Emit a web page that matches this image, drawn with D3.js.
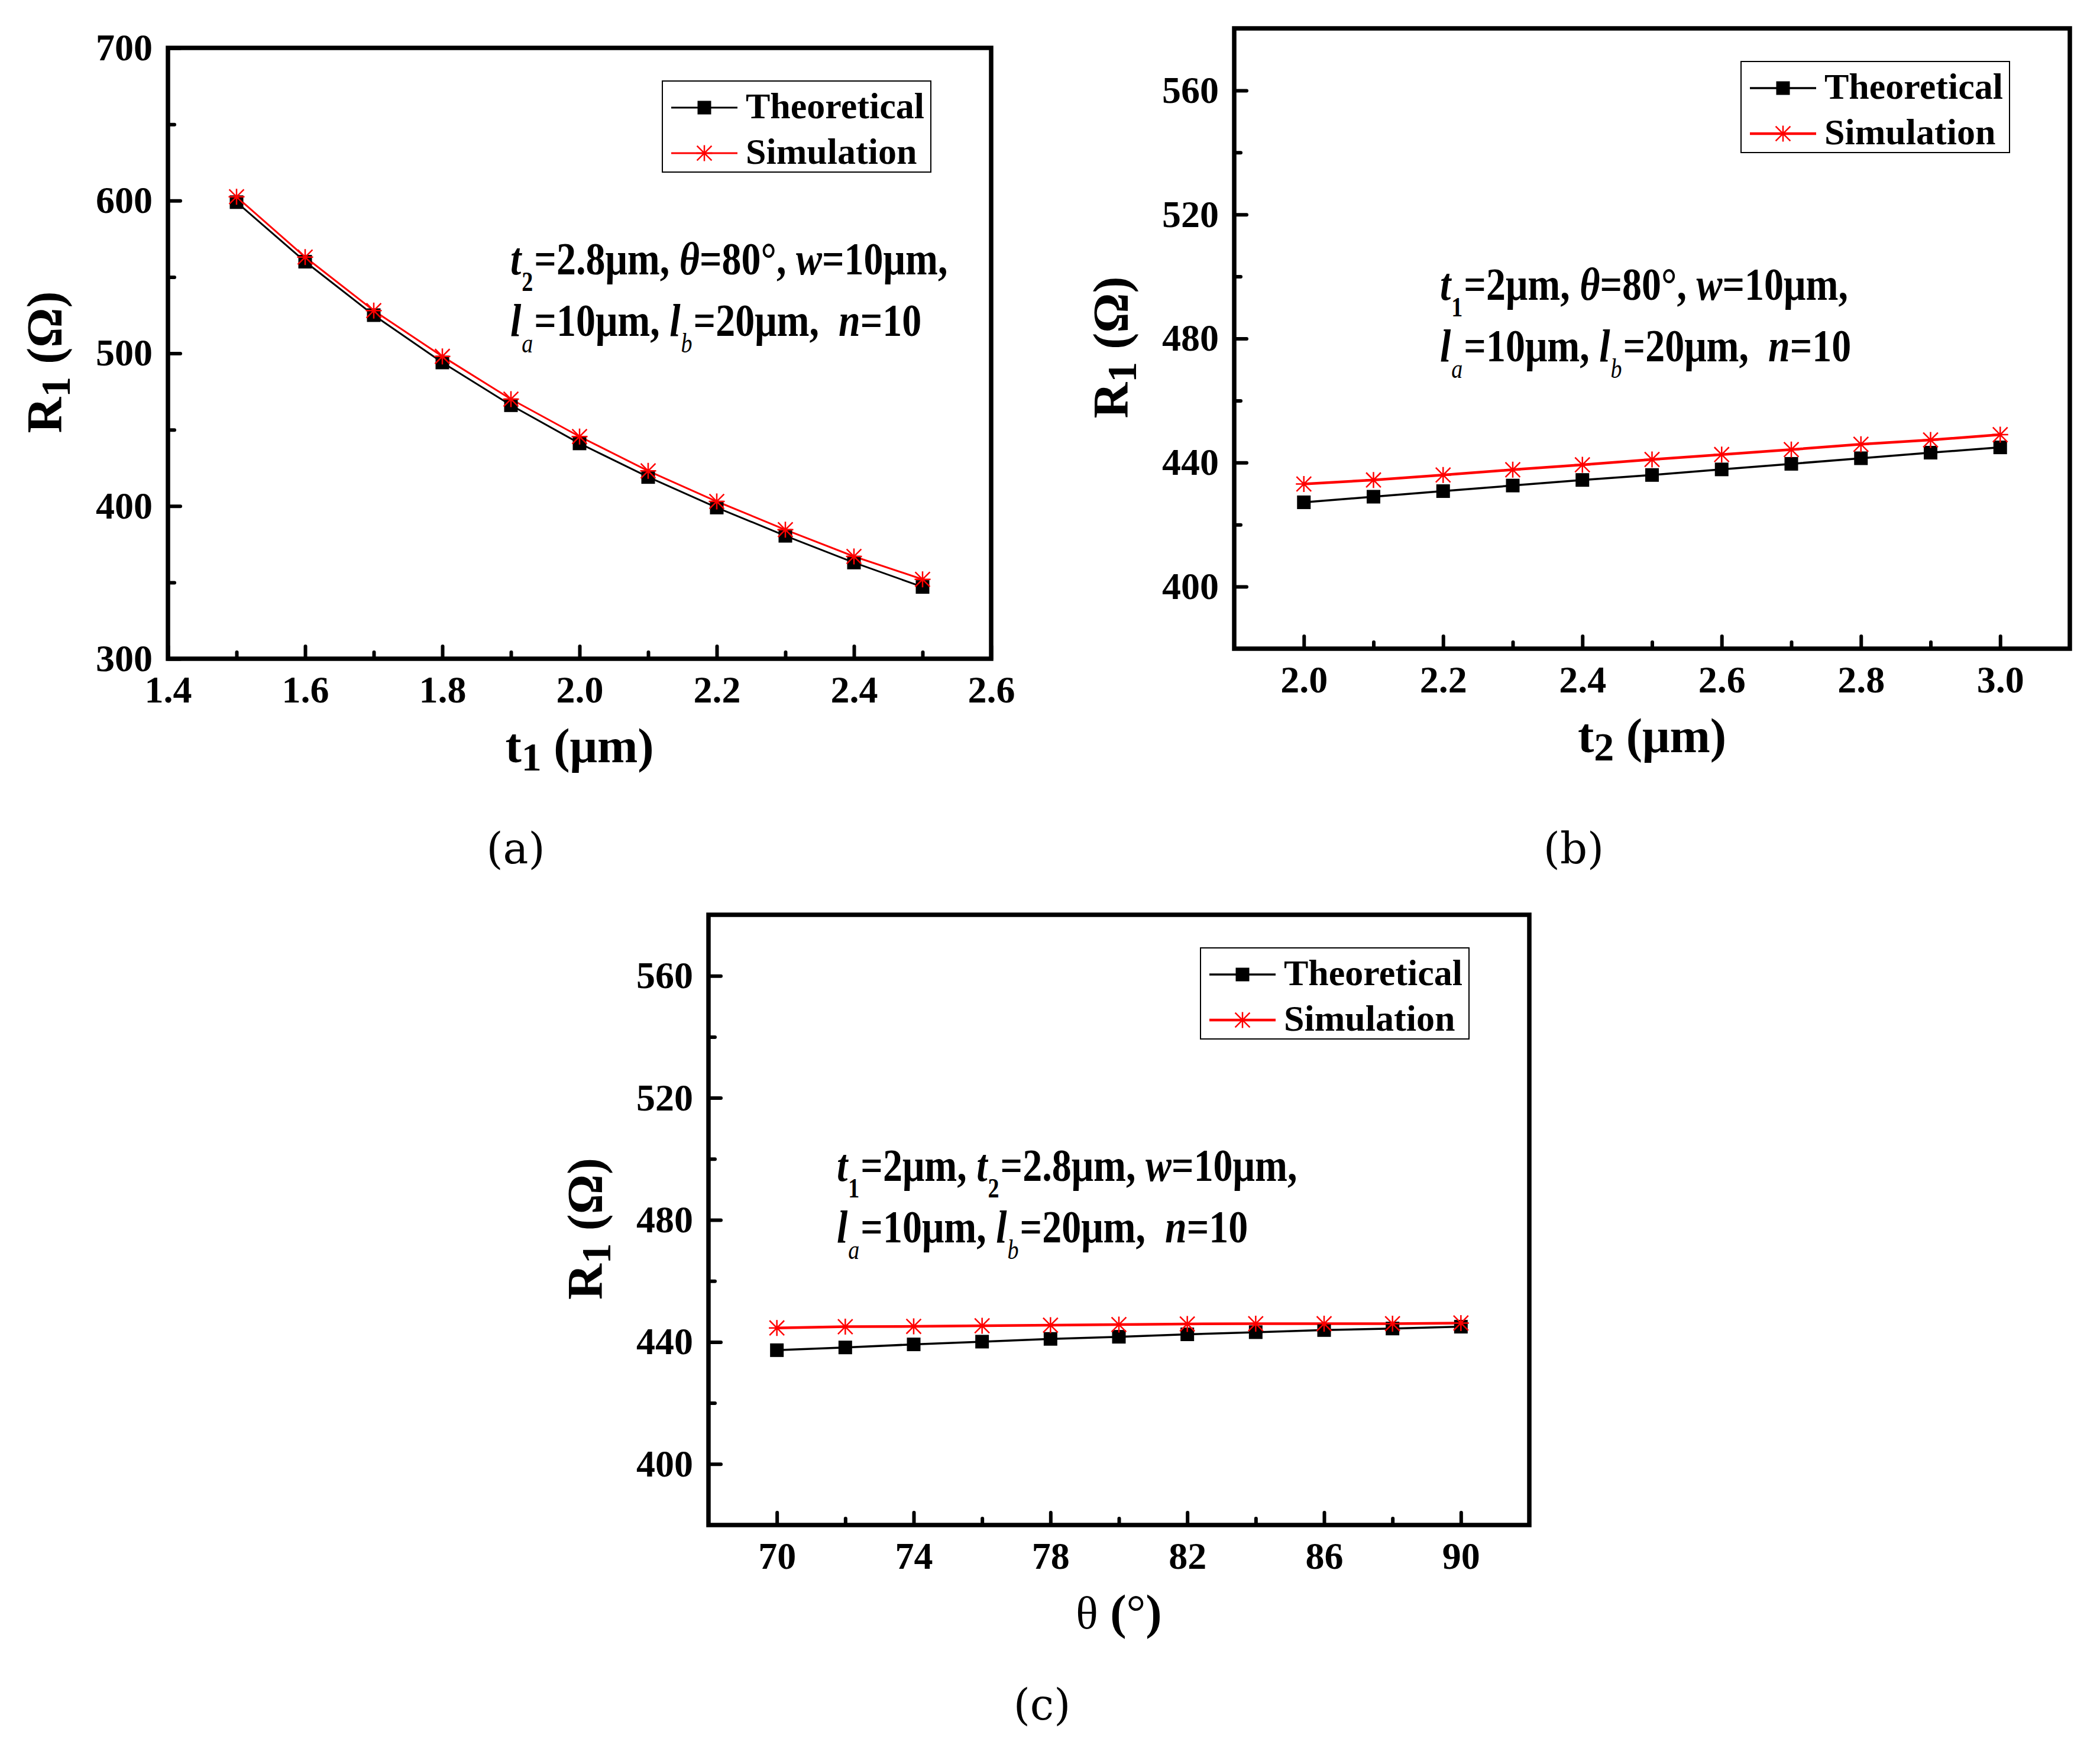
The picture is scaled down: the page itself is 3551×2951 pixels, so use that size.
<!DOCTYPE html>
<html>
<head>
<meta charset="utf-8">
<script src="https://cdn.jsdelivr.net/npm/d3@7"></script>
<style>
  body { margin: 0; background: #fff; }
  text { font-family: "Liberation Serif", "Times New Roman", serif; }
</style>
</head>
<body>
<div id="chart"></div>
<script>
// ---- data ----
const t1Values = [1.5, 1.6, 1.7, 1.8, 1.9, 2.0, 2.1, 2.2, 2.3, 2.4, 2.5];
const t1Theoretical = [599, 560, 525, 494, 466, 441, 419, 399, 380.5, 363, 347];
const t1Simulation = [602.5, 563, 528, 498, 470, 445.5, 423, 403, 384.5, 367, 352];

const t2Values = [2.0, 2.1, 2.2, 2.3, 2.4, 2.5, 2.6, 2.7, 2.8, 2.9, 3.0];
const t2Theoretical = [427.2, 429, 430.8, 432.6, 434.4, 436, 437.8, 439.6, 441.4, 443.2, 444.9];
const t2Simulation = [433.1, 434.4, 436, 437.7, 439.3, 441, 442.6, 444.2, 445.9, 447.3, 449];

const thetaValues = [70, 72, 74, 76, 78, 80, 82, 84, 86, 88, 90];
const thetaTheoretical = [437.3, 438.2, 439.2, 440.1, 441, 441.7, 442.5, 443.2, 443.9, 444.4, 445];
const thetaSimulation = [444.6, 445, 445.1, 445.3, 445.5, 445.7, 445.9, 446, 446, 446, 446.2];

// tick values
const t1MajorTicks = [1.4, 1.6, 1.8, 2.0, 2.2, 2.4, 2.6];
const t1MinorTicks = [1.5, 1.7, 1.9, 2.1, 2.3, 2.5];
const r1MajorTicksA = [300, 400, 500, 600, 700];
const r1MinorTicksA = [350, 450, 550, 650];
const t2MajorTicks = [2.0, 2.2, 2.4, 2.6, 2.8, 3.0];
const t2MinorTicks = [2.1, 2.3, 2.5, 2.7, 2.9];
const thetaMajorTicks = [70, 74, 78, 82, 86, 90];
const thetaMinorTicks = [72, 76, 80, 84, 88];
const r1MajorTicks = [400, 440, 480, 520, 560];
const r1MinorTicks = [420, 460, 500, 540];

const seriesNames = ["Theoretical", "Simulation"];

// annotation texts: [text, style]  style: "" normal, "i" italic, "s" subscript, "si" italic subscript
const lineBottom = [["l", "i"], ["a", "si"], ["=10μm, ", ""], ["l", "i"], ["b", "si"], ["=20μm,  ", ""], ["n", "i"], ["=10", ""]];
const noteA = [[["t", "i"], ["2", "s"], ["=2.8μm, ", ""], ["θ", "i"], ["=80°, ", ""], ["w", "i"], ["=10μm,", ""]], lineBottom];
const noteB = [[["t", "i"], ["1", "s"], ["=2μm, ", ""], ["θ", "i"], ["=80°, ", ""], ["w", "i"], ["=10μm,", ""]], lineBottom];
const noteC = [[["t", "i"], ["1", "s"], ["=2μm, ", ""], ["t", "i"], ["2", "s"], ["=2.8μm, ", ""], ["w", "i"], ["=10μm,", ""]], lineBottom];

// ---- layout ----
const W = 3551, H = 2951;
const svg = d3.select("#chart").append("svg")
    .attr("width", W).attr("height", H)
    .style("display", "block");
svg.append("rect").attr("width", W).attr("height", H).attr("fill", "#fff");

const panels = [
    {left: 284, right: 1676, top: 81, bottom: 1114, xDomain: [1.4, 2.6], yDomain: [300, 700],
     xs: t1Values, theo: t1Theoretical, sim: t1Simulation,
     xMajor: t1MajorTicks, xMinor: t1MinorTicks, yMajor: r1MajorTicksA, yMinor: r1MinorTicksA,
     xFmt: d3.format(".1f"), xTitle: "t1", note: noteA, noteX: 579, noteY: 383,
     label: "(a)", labelX: 872, labelY: 1460, simWidth: 3, theoWidth: 3},
    {left: 2087, right: 3500, top: 48, bottom: 1097, xDomain: [1.9, 3.1], yDomain: [380, 580],
     xs: t2Values, theo: t2Theoretical, sim: t2Simulation,
     xMajor: t2MajorTicks, xMinor: t2MinorTicks, yMajor: r1MajorTicks, yMinor: r1MinorTicks,
     xFmt: d3.format(".1f"), xTitle: "t2", note: noteB, noteX: 348, noteY: 459,
     label: "(b)", labelX: 2661, labelY: 1460, simWidth: 4.5, theoWidth: 3.5},
    {left: 1198, right: 2586, top: 1547, bottom: 2579, xDomain: [68, 92], yDomain: [380, 580],
     xs: thetaValues, theo: thetaTheoretical, sim: thetaSimulation,
     xMajor: thetaMajorTicks, xMinor: thetaMinorTicks, yMajor: r1MajorTicks, yMinor: r1MinorTicks,
     xFmt: d3.format("d"), xTitle: "theta", note: noteC, noteX: 217, noteY: 450,
     label: "(c)", labelX: 1762, labelY: 2908, simWidth: 4.5, theoWidth: 3.5}
];

// asterisk symbol for the simulation markers
const asterisk = {
    draw(ctx, size) {
        const r = Math.sqrt(size) / 2;
        const d = r * 0.92;
        ctx.moveTo(-r, 0); ctx.lineTo(r, 0);
        ctx.moveTo(0, -r); ctx.lineTo(0, r);
        ctx.moveTo(-d, -d); ctx.lineTo(d, d);
        ctx.moveTo(-d, d); ctx.lineTo(d, -d);
    }
};
const squarePath = d3.symbol(d3.symbolSquare, 23 * 23)();
const starPath = d3.symbol(asterisk, 27 * 27)();

panels.forEach(function(p) {
    const w = p.right - p.left, h = p.bottom - p.top;
    const g = svg.append("g").attr("transform", "translate(" + p.left + "," + p.top + ")");

    const x = d3.scaleLinear().domain(p.xDomain).range([0, w]);
    const y = d3.scaleLinear().domain(p.yDomain).range([h, 0]);

    // axes with inward ticks
    g.append("g").attr("transform", "translate(0," + h + ")")
        .call(d3.axisBottom(x).tickValues(p.xMajor).tickFormat(p.xFmt).tickSize(-21).tickSizeOuter(0).tickPadding(29));
    g.append("g").attr("transform", "translate(0," + h + ")")
        .call(d3.axisBottom(x).tickValues(p.xMinor).tickFormat("").tickSize(-11).tickSizeOuter(0));
    g.append("g")
        .call(d3.axisLeft(y).tickValues(p.yMajor).tickSize(-21).tickSizeOuter(0).tickPadding(26));
    g.append("g")
        .call(d3.axisLeft(y).tickValues(p.yMinor).tickFormat("").tickSize(-11).tickSizeOuter(0));

    g.selectAll(".domain").remove();
    g.selectAll(".tick line").attr("stroke", "#000").attr("stroke-width", 6).attr("stroke-linecap", "round");
    g.selectAll(".tick text")
        .attr("fill", "#000")
        .style("font-family", "'Liberation Serif', serif")
        .style("font-weight", "bold")
        .style("font-size", "64px");

    // frame
    g.append("rect").attr("width", w).attr("height", h)
        .attr("fill", "none").attr("stroke", "#000").attr("stroke-width", 7.5);

    // series
    const line = d3.line()
        .x(function(d) { return x(d[0]); })
        .y(function(d) { return y(d[1]); });
    const theoPts = p.xs.map(function(v, i) { return [v, p.theo[i]]; });
    const simPts = p.xs.map(function(v, i) { return [v, p.sim[i]]; });

    g.append("path").datum(theoPts).attr("d", line)
        .attr("fill", "none").attr("stroke", "#000").attr("stroke-width", p.theoWidth);
    g.append("path").datum(simPts).attr("d", line)
        .attr("fill", "none").attr("stroke", "#ff0000").attr("stroke-width", p.simWidth);

    g.selectAll(".theo").data(theoPts).enter().append("path")
        .attr("class", "theo")
        .attr("d", squarePath)
        .attr("transform", function(d) { return "translate(" + x(d[0]) + "," + y(d[1]) + ")"; })
        .attr("fill", "#000");
    g.selectAll(".sim").data(simPts).enter().append("path")
        .attr("class", "sim")
        .attr("d", starPath)
        .attr("transform", function(d) { return "translate(" + x(d[0]) + "," + y(d[1]) + ")"; })
        .attr("fill", "none").attr("stroke", "#ff0000").attr("stroke-width", 2.5);

    // legend
    const lg = g.append("g").attr("transform", "translate(" + (w - 102 - 454) + ",56)");
    lg.append("rect").attr("width", 454).attr("height", 154)
        .attr("fill", "#fff").attr("stroke", "#000").attr("stroke-width", 2);
    seriesNames.forEach(function(name, i) {
        const cy = i === 0 ? 45 : 122;
        const col = i === 0 ? "#000" : "#ff0000";
        lg.append("line").attr("x1", 15).attr("x2", 127).attr("y1", cy).attr("y2", cy)
            .attr("stroke", col).attr("stroke-width", i === 0 ? p.theoWidth : p.simWidth);
        if (i === 0) {
            lg.append("path").attr("d", squarePath).attr("transform", "translate(71," + cy + ")").attr("fill", "#000");
        } else {
            lg.append("path").attr("d", starPath).attr("transform", "translate(71," + cy + ")")
                .attr("fill", "none").attr("stroke", "#ff0000").attr("stroke-width", 2.5);
        }
        lg.append("text").attr("x", 141).attr("y", cy + 18)
            .style("font-weight", "bold").style("font-size", "62px")
            .text(name);
    });

    // annotation (text in the original is drawn a little taller than wide)
    p.note.forEach(function(segs, li) {
        const t = g.append("text")
            .attr("transform", "translate(" + p.noteX + "," + (p.noteY + li * 104) + ") scale(1,1.2)")
            .style("white-space", "pre")
            .style("font-weight", "bold").style("font-size", "66px");
        let lowered = false;
        segs.forEach(function(s) {
            const ts = t.append("tspan").text(s[0]);
            if (s[1] === "s" || s[1] === "si") {
                ts.style("font-size", "38px").attr("dy", 23).attr("dx", 1);
                if (s[1] === "si") ts.style("font-style", "italic").style("font-weight", "normal");
                lowered = true;
            } else {
                if (lowered) { ts.attr("dy", -23).attr("dx", 2); lowered = false; }
                if (s[1] === "i") ts.style("font-style", "italic");
            }
        });
    });

    // y title
    const yt = g.append("text")
        .attr("transform", "translate(-180," + (h / 2 + 15) + ") rotate(-90)")
        .attr("text-anchor", "middle")
        .style("font-weight", "bold").style("font-size", "84px");
    yt.append("tspan").text("R");
    yt.append("tspan").text("1").style("font-size", "70px").attr("dy", 14);
    yt.append("tspan").text(" (Ω)").attr("dy", -14);

    // x title
    const xt = g.append("text")
        .attr("x", w / 2).attr("y", h + 175)
        .attr("text-anchor", "middle")
        .style("font-size", "82px");
    if (p.xTitle === "theta") {
        xt.append("tspan").text("θ").style("font-size", "78px");
        xt.append("tspan").text(" (").style("font-weight", "bold");
        xt.append("tspan").text("°");
        xt.append("tspan").text(")").style("font-weight", "bold");
    } else {
        xt.style("font-weight", "bold");
        xt.append("tspan").text(p.xTitle.charAt(0));
        xt.append("tspan").text(p.xTitle.charAt(1)).style("font-size", "68px").attr("dy", 14);
        xt.append("tspan").text(" (μm)").attr("dy", -14);
    }

    // panel label
    svg.append("text").attr("x", p.labelX).attr("y", p.labelY)
        .attr("text-anchor", "middle")
        .style("font-family", "'DejaVu Serif', 'Liberation Serif', serif")
        .style("font-size", "72px")
        .text(p.label);
});
</script>
</body>
</html>
